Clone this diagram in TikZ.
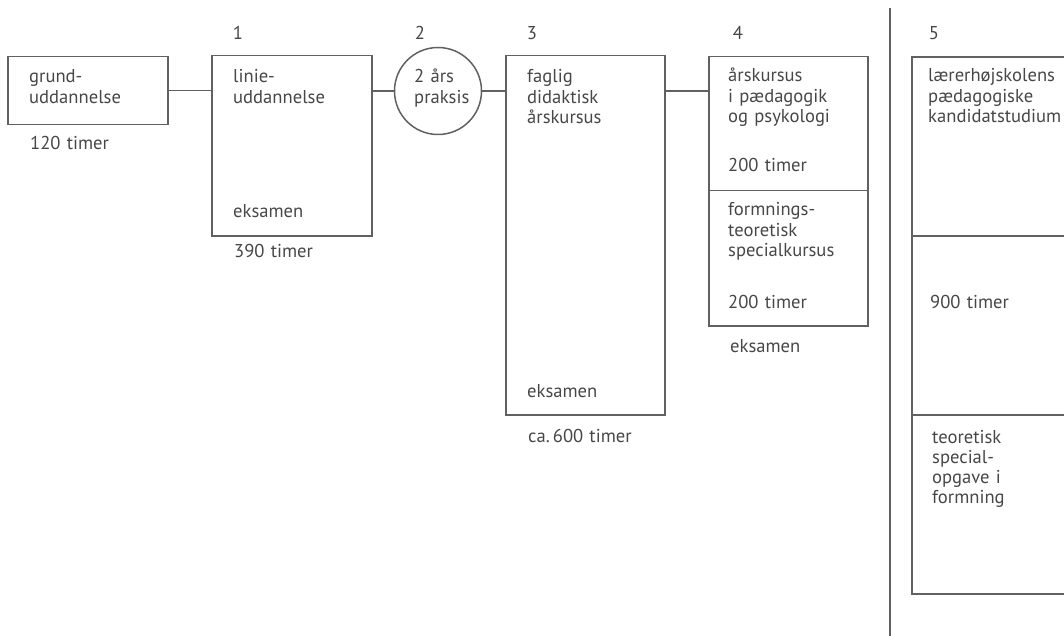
\documentclass[tikz,border=0pt]{standalone}
\usepackage{fontspec}
\setmainfont{PT Sans}
\begin{document}
\begin{tikzpicture}[x=1pt,y=-1pt,
  ln/.style={draw=black!62,line width=1.5pt},
  box/.style={ln,rectangle,inner sep=0pt,anchor=north west},
  txt/.style={text=black!72,inner sep=0pt,anchor=base west,align=left,text width=170pt,
     font=\fontsize{18.6}{20.3}\selectfont},
  num/.style={text=black!72,inner sep=0pt,anchor=base,font=\fontsize{18.6}{20.3}\selectfont}]
\useasboundingbox (0,0) rectangle (1064,636);
% boxes
\node[box,minimum width=160pt,minimum height=68pt] (g) at (7,56) {};
\node[box,minimum width=160pt,minimum height=180pt] (l) at (211,55) {};
\node[ln,circle,inner sep=0pt,minimum size=87pt] (c) at (438,91) {};
\node[box,minimum width=159pt,minimum height=359pt] (f) at (505,55) {};
\node[box,minimum width=159pt,minimum height=134pt] (a4) at (708,56) {};
\node[box,minimum width=159pt,minimum height=135pt] (b4) at (708,190) {};
% box 5 (open to the right)
\coordinate (k5) at (912,57);
\coordinate (k5b) at (912,594);
\coordinate (k5r) at (1064,57);
\coordinate (k5br) at (1064,594);
\draw[ln] (k5r) -- (k5) -- (k5b) -- (k5br);
\draw[ln] (k5 |- 0,236) -- (k5r |- 0,236);
\draw[ln] (k5 |- 0,415) -- (k5r |- 0,415);
% separator
\coordinate (s1) at (890,8);
\coordinate (s2) at (890,636);
\draw[ln] (s1) -- (s2);
% connectors
\draw[ln] (g.east) -- (l.west |- g.east);
\draw[ln] (l.east |- c.west) -- (c.west);
\draw[ln] (c.east) -- (f.west |- c.east);
\draw[ln] (f.east |- c.east) -- (a4.west |- c.east);
% numbers
\node[num] (n1) at (238,40) {1};
\node[num] (n2) at (420,40) {2};
\node[num] (n3) at (532,40) {3};
\node[num] (n4) at (738,40) {4};
\node[num] (n5) at (934,40) {5};
% texts
\node[txt] (tg) at (29,83) {grund-\\uddannelse};
\node[txt] (tg2) at (30,150) {120 timer};
\node[txt] (tl) at (233,83) {linie-\\uddannelse};
\node[txt] (tl2) at (233,218) {eksamen};
\node[txt] (tl3) at (234,257) {390 timer};
\node[txt] (tc) at (414,83) {2 års\\praksis};
\node[txt] (tf) at (527,83) {faglig\\didaktisk\\årskursus};
\node[txt] (tf2) at (527,397) {eksamen};
\node[txt] (tf3) at (528,442) {ca.\,600 timer};
\node[txt] (ta) at (728,82) {årskursus\\i pædagogik\\og psykologi};
\node[txt] (ta2) at (728,172) {200 timer};
\node[txt] (tb) at (728,216) {formnings-\\teoretisk\\specialkursus};
\node[txt] (tb2) at (728,308) {200 timer};
\node[txt] (tb3) at (730,352) {eksamen};
\node[txt] (tk) at (928,82) {lærerhøjskolens\\pædagogiske\\kandidatstudium};
\node[txt] (tk2) at (930,308) {900 timer};
\node[txt] (tk3) at (932,443) {teoretisk\\special-\\opgave i\\formning};
\end{tikzpicture}
\end{document}
